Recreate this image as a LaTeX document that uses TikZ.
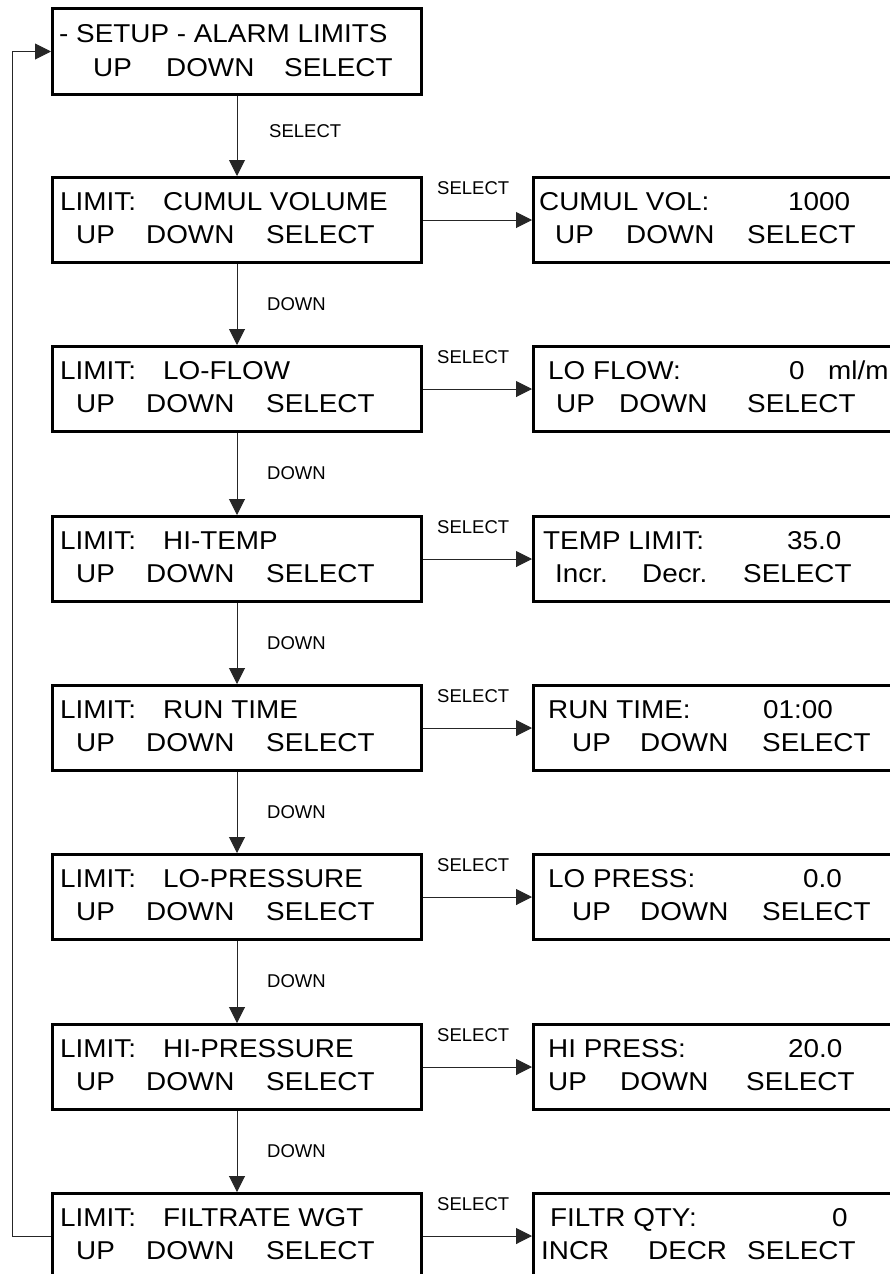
\documentclass[tikz,border=0pt]{standalone}
\usepackage{fontspec}
\setmainfont{Liberation Sans}
\newfontfamily\bigfont[FakeStretch=1.08]{Liberation Sans}
\usetikzlibrary{arrows.meta,calc}
\newcommand\mb[2]{\makebox[#1pt][l]{#2}}
\begin{document}
\begin{tikzpicture}[x=1pt,y=-1pt,
  box/.style={draw, line width=3pt, minimum width=369pt, minimum height=85pt, inner sep=0pt, anchor=north west},
  rbox/.style={box, minimum width=400pt},
  txt/.style={anchor=base west, inner sep=0pt, font=\bigfont\fontsize{25.8}{30}\selectfont},
  lab/.style={anchor=base west, inner sep=0pt, font=\fontsize{18.5}{22}\selectfont},
  conn/.style={line width=1pt, draw=black!85, -{Triangle[length=16pt,width=16pt]}}]
\useasboundingbox (0,0) rectangle (890,1274);
\clip (0,0) rectangle (890,1274);
% left column
\node[box, minimum height=86pt] (b0) at (51,7) {};
\node[txt] (b0a) at (59,42) {- SETUP - ALARM LIMITS};
\node[txt] (b0b) at (93,76) {\mb{73}{UP}\mb{118}{DOWN}SELECT};
\foreach \i/\t/\w in {1/176/CUMUL VOLUME,2/345/LO-FLOW,3/515/HI-TEMP,4/684/RUN TIME,5/853/LO-PRESSURE,6/1023/HI-PRESSURE,7/1192/FILTRATE WGT}{
  \node[box] (b\i) at (51,\t) {};
  \node[txt] (b\i a) at (60,\t+34.5) {\mb{103}{LIMIT:}\w};
  \node[txt] (b\i b) at (76,\t+67.5) {\mb{70}{UP}\mb{120}{DOWN}SELECT};
  \node[rbox] (r\i) at (532,\t) {};
  \node[lab] (s\i) at (437,\t+18) {SELECT};
}
% right column texts
\node[txt] (r1a) at (539,176+34) {\mb{249}{CUMUL VOL:}1000};
\node[txt] (r1b) at (555,176+67) {\mb{71}{UP}\mb{121}{DOWN}SELECT};
\node[txt] (r2a) at (548,345+34) {\mb{241}{LO FLOW:}\mb{39}{0}ml/m};
\node[txt] (r2b) at (556,345+67) {\mb{63}{UP}\mb{128}{DOWN}SELECT};
\node[txt] (r3a) at (543,515+34) {\mb{244}{TEMP LIMIT:}35.0};
\node[txt] (r3b) at (555,515+67) {\mb{87}{Incr.}\mb{101}{Decr.}SELECT};
\node[txt] (r4a) at (548,684+34) {\mb{215}{RUN TIME:}01:00};
\node[txt] (r4b) at (572,684+67) {\mb{68}{UP}\mb{122}{DOWN}SELECT};
\node[txt] (r5a) at (548,853+34) {\mb{255}{LO PRESS:}0.0};
\node[txt] (r5b) at (572,853+67) {\mb{68}{UP}\mb{122}{DOWN}SELECT};
\node[txt] (r6a) at (548,1023+34) {\mb{240}{HI PRESS:}20.0};
\node[txt] (r6b) at (548,1023+67) {\mb{72}{UP}\mb{126}{DOWN}SELECT};
\node[txt] (r7a) at (550,1192+34) {\mb{282}{FILTR QTY:}0};
\node[txt] (r7b) at (541,1192+67) {\mb{107}{INCR}\mb{99}{DECR}SELECT};
% vertical labels
\node[lab] (l0) at (269,137) {SELECT};
\foreach \i/\y in {1/310,2/479,3/649,4/818,5/987,6/1157}{
  \node[lab] (d\i) at (267,\y) {DOWN};
}
% connectors
\draw[conn] (b0.south) -- (b1.north);
\foreach \i/\j in {1/2,2/3,3/4,4/5,5/6,6/7}{
  \draw[conn] (b\i.south) -- (b\j.north);
}
\foreach \i in {1,...,7}{
  \draw[conn] (b\i.east) -- (r\i.west);
}
\draw[conn] (b7.west) -- ++(-39,0) |- (b0.west);
\end{tikzpicture}
\end{document}
